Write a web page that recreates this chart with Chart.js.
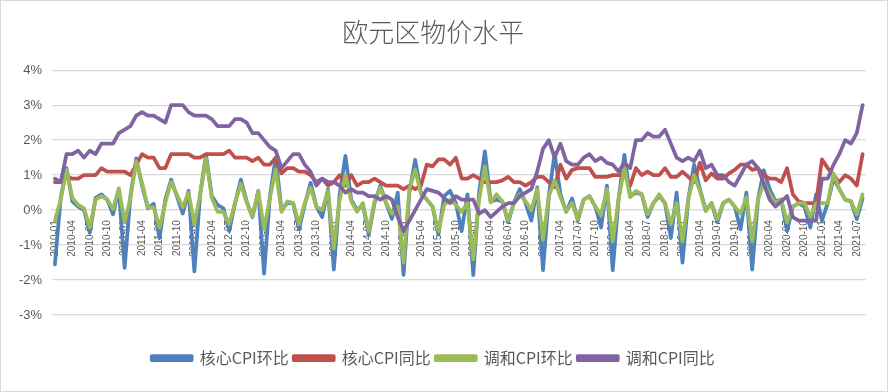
<!DOCTYPE html>
<html>
<head>
<meta charset="utf-8">
<script src="https://cdn.jsdelivr.net/npm/chart.js@4.4.1/dist/chart.umd.min.js"></script>
<style>
html, body { margin: 0; padding: 0; background: #fff; }
#wrap { position: relative; width: 888px; height: 392px; box-sizing: border-box; border: 1px solid #d9d9d9; }
</style>
</head>
<body>
<div id="wrap"><canvas id="chart"></canvas></div>
<script>
// Months 2010-01 .. 2021-08
const startYear = 2010;
const monthCount = 140;
const months = [];
for (let i = 0; i < monthCount; i++) {
    const y = startYear + Math.floor(i / 12);
    const m = (i % 12) + 1;
    months.push(y + '-' + (m < 10 ? '0' + m : m));
}

const seriesNames = ['核心CPI环比', '核心CPI同比', '调和CPI环比', '调和CPI同比'];
const yTicks = [-3, -2, -1, 0, 1, 2, 3, 4];

// 核心CPI环比 (%)
const coreMoM = [
    -1.55, 0.35, 1.2, 0.25, 0.1, 0.0, -0.65, 0.35, 0.45, 0.3, -0.12, 0.6,
    -1.65, 0.4, 1.48, 0.7, 0.05, 0.18, -0.8, 0.3, 0.87, 0.4, -0.1, 0.55,
    -1.75, 0.45, 1.58, 0.4, 0.15, 0.05, -0.6, 0.2, 0.87, 0.25, -0.2, 0.55,
    -1.82, 0.4, 1.5, 0.0, 0.2, 0.2, -0.55, 0.15, 0.78, 0.1, -0.2, 0.6,
    -1.7, 0.45, 1.55, 0.3, 0.0, 0.15, -0.7, 0.2, 0.7, 0.2, -0.25, 0.5,
    -1.85, 0.5, 1.44, 0.5, 0.3, 0.1, -0.7, 0.4, 0.55, 0.2, -0.6, 0.45,
    -1.86, 0.5, 1.68, 0.25, 0.3, 0.25, -0.35, 0.22, 0.6, 0.2, -0.3, 0.65,
    -1.72, 0.4, 1.62, 0.45, -0.05, 0.33, -0.3, 0.3, 0.4, 0.1, -0.5, 0.7,
    -1.72, 0.3, 1.58, 0.4, 0.5, 0.45, -0.2, 0.2, 0.4, 0.2, -0.8, 0.5,
    -1.5, 0.3, 1.3, 0.6, 0.0, 0.2, -0.35, 0.2, 0.3, 0.1, -0.55, 0.5,
    -1.7, 0.3, 1.14, 0.6, 0.25, 0.3, -0.6, 0.1, 0.2, 0.1, -0.5, 0.45,
    -0.3, 0.2, 0.9, 0.6, 0.3, 0.25, -0.26, 0.33
];

// 核心CPI同比 (%)
const coreYoY = [
    0.8, 0.8, 0.95, 0.9, 0.9, 1.0, 1.0, 1.0, 1.2, 1.1, 1.1, 1.1,
    1.1, 1.0, 1.3, 1.6, 1.5, 1.5, 1.2, 1.2, 1.6, 1.6, 1.6, 1.6,
    1.5, 1.5, 1.6, 1.6, 1.6, 1.6, 1.7, 1.5, 1.5, 1.5, 1.4, 1.5,
    1.3, 1.3, 1.5, 1.05, 1.2, 1.2, 1.1, 1.1, 1.0, 0.8, 0.9, 0.7,
    0.8, 1.0, 0.7, 1.0, 0.7, 0.8, 0.8, 0.9, 0.8, 0.7, 0.7, 0.7,
    0.6, 0.7, 0.6, 0.7, 1.3, 1.25, 1.45, 1.45, 1.3, 1.5, 0.9, 0.9,
    1.0, 0.9, 0.8, 0.8, 0.8, 0.85, 0.95, 0.8, 0.8, 0.7, 0.8, 0.95,
    0.95, 0.8, 0.65, 1.3, 0.9, 1.15, 1.2, 1.2, 1.2, 0.95, 0.95, 0.95,
    1.0, 1.0, 1.0, 0.7, 1.2, 1.0, 1.1, 1.0, 1.0, 1.2, 0.95, 0.95,
    1.1, 0.95, 0.8, 1.35, 0.85, 1.05, 0.9, 0.9, 1.05, 1.15, 1.3, 1.3,
    1.15, 1.2, 1.0, 0.9, 0.9, 0.8, 1.2, 0.45, 0.25, 0.2, 0.2, 0.2,
    1.45, 1.2, 1.0, 0.8, 1.0, 0.9, 0.7, 1.6
];

// 调和CPI环比 (%)
const hicpMoM = [
    -0.3, 0.3, 1.15, 0.35, 0.15, 0.05, -0.5, 0.3, 0.4, 0.3, 0.03, 0.62,
    -0.35, 0.35, 1.4, 0.78, 0.08, 0.08, -0.5, 0.21, 0.8, 0.44, 0.08, 0.5,
    -0.4, 0.45, 1.48, 0.35, -0.05, -0.05, -0.4, 0.2, 0.75, 0.22, -0.18, 0.54,
    -0.55, 0.35, 1.16, -0.05, 0.25, 0.2, -0.4, 0.2, 0.64, 0.1, 0.0, 0.55,
    -1.1, 0.3, 1.0, 0.25, -0.05, 0.2, -0.6, 0.25, 0.64, 0.2, -0.1, 0.1,
    -1.5, 0.6, 1.16, 0.45, 0.3, 0.1, -0.6, 0.15, 0.3, 0.15, -0.05, 0.2,
    -1.41, 0.3, 1.25, 0.22, 0.45, 0.25, -0.3, 0.22, 0.45, 0.25, 0.0, 0.6,
    -0.85, 0.4, 0.85, 0.37, -0.03, 0.2, -0.26, 0.3, 0.4, 0.1, -0.14, 0.6,
    -0.9, 0.3, 1.2, 0.37, 0.55, 0.45, -0.12, 0.2, 0.45, 0.2, -0.4, 0.2,
    -0.9, 0.3, 1.0, 0.55, -0.03, 0.2, -0.26, 0.2, 0.3, 0.1, -0.1, 0.37,
    -0.9, 0.3, 0.78, 0.45, 0.2, 0.3, -0.35, 0.1, 0.2, 0.2, -0.2, 0.2,
    0.2, 0.2, 1.05, 0.6, 0.3, 0.25, -0.12, 0.45
];

// 调和CPI同比 (%)
const hicpYoY = [
    0.9, 0.8, 1.6, 1.6, 1.7, 1.5, 1.7, 1.6, 1.9, 1.9, 1.9, 2.2,
    2.3, 2.4, 2.7, 2.8, 2.7, 2.7, 2.6, 2.5, 3.0, 3.0, 3.0, 2.8,
    2.7, 2.7, 2.7, 2.6, 2.4, 2.4, 2.4, 2.6, 2.6, 2.5, 2.2, 2.2,
    2.0, 1.8, 1.7, 1.2, 1.4, 1.6, 1.6, 1.3, 1.1, 0.7, 0.9, 0.8,
    0.8, 0.7, 0.5, 0.6, 0.5, 0.5, 0.4, 0.4, 0.3, 0.4, 0.3, -0.2,
    -0.6, -0.3, 0.0, 0.3, 0.6, 0.55, 0.5, 0.35, 0.2, 0.4, 0.3, 0.3,
    0.3, -0.1, 0.0, -0.2, -0.05, 0.1, 0.2, 0.2, 0.4, 0.5, 0.6, 1.1,
    1.75, 2.0, 1.5, 1.9, 1.4, 1.3, 1.3, 1.5, 1.6, 1.4, 1.5, 1.35,
    1.3, 1.1, 1.35, 1.2, 2.0, 2.0, 2.2, 2.1, 2.1, 2.3, 1.9, 1.5,
    1.4, 1.5, 1.4, 1.7, 1.2, 1.3, 1.0, 1.0, 0.8, 0.7, 1.0, 1.3,
    1.4, 1.2, 0.75, 0.3, 0.1, 0.25, 0.4, -0.2, -0.3, -0.3, -0.3, -0.3,
    0.9, 0.9, 1.3, 1.6, 2.0, 1.9, 2.2, 3.0
];

const colors = ['#4F81BD', '#C0504D', '#9BBB59', '#8064A2'];
const seriesData = [coreMoM, coreYoY, hicpMoM, hicpYoY];
const cjk = '"Noto Sans CJK SC", "Noto Sans", sans-serif';

const datasets = seriesData.map((d, k) => ({
    label: seriesNames[k],
    data: d,
    borderColor: colors[k],
    backgroundColor: colors[k],
    borderWidth: 3.75,
    pointRadius: 0,
    tension: 0,
    borderJoinStyle: 'round',
    borderCapStyle: 'round',
    fill: false,
    order: 4 - k // later series drawn on top, like Excel
}));

new Chart(document.getElementById('chart'), {
    type: 'line',
    data: { labels: months, datasets: datasets },
    options: {
        responsive: true,
        maintainAspectRatio: false,
        animation: false,
        layout: { padding: { left: 0, right: 21.5, top: 0, bottom: 15 } },
        plugins: {
            title: {
                display: true,
                text: '欧元区物价水平',
                color: '#595959',
                font: { family: cjk, size: 26, weight: 300 },
                padding: { top: 16, bottom: 22 }
            },
            legend: {
                position: 'bottom',
                labels: {
                    boxWidth: 40,
                    boxHeight: 4,
                    padding: 5,
                    color: '#595959',
                    font: { family: cjk, size: 16 },
                    sort: (a, b) => a.datasetIndex - b.datasetIndex
                }
            },
            tooltip: { enabled: false }
        },
        scales: {
            x: {
                type: 'category',
                position: { y: 0 },
                offset: true,
                grid: { display: false },
                border: { display: true, color: '#d9d9d9', width: 1.3 },
                ticks: {
                    autoSkip: false,
                    minRotation: 90,
                    maxRotation: 90,
                    padding: 2,
                    color: '#595959',
                    font: { family: '"Liberation Sans", Arial, sans-serif', size: 10 },
                    callback: (v, i) => (i % 3 === 0 ? months[i] : '')
                }
            },
            xb: {
                type: 'linear',
                axis: 'x',
                position: 'bottom',
                display: true,
                ticks: { display: false },
                grid: { display: false },
                border: { display: false },
                afterFit: (s) => { s.height = 30; }
            },
            y: {
                min: yTicks[0],
                max: yTicks[yTicks.length - 1],
                afterFit: (s) => { s.width = 51; },
                afterBuildTicks: (s) => { s.ticks = yTicks.map(v => ({ value: v })); },
                grid: { color: '#d9d9d9', lineWidth: 1.3, drawTicks: false },
                border: { display: false },
                ticks: {
                    padding: 10,
                    color: '#595959',
                    font: { family: '"Liberation Sans", Arial, sans-serif', size: 13 },
                    callback: (v) => v + '%'
                }
            }
        }
    }
});
</script>
</body>
</html>
